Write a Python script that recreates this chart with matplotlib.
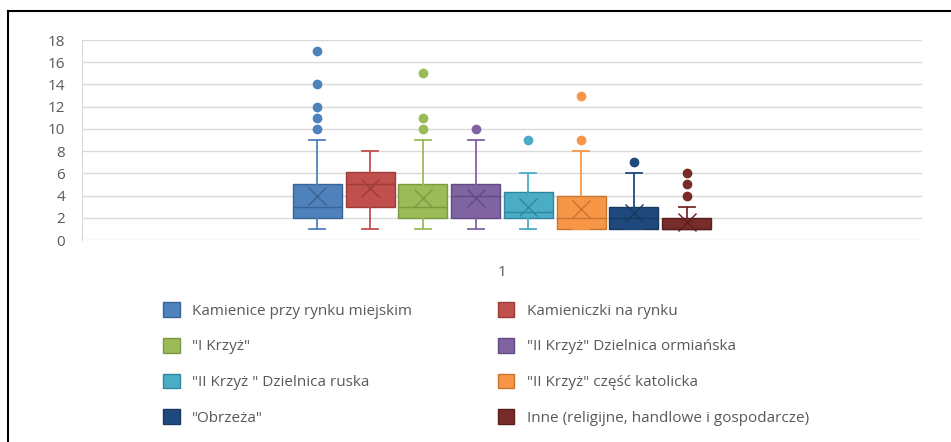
import numpy as np
import matplotlib
matplotlib.use('Agg')
import matplotlib.pyplot as plt
from matplotlib.patches import Patch
from matplotlib.lines import Line2D

plt.rcParams['font.family'] = ['Open Sans', 'DejaVu Sans']

# dane
labels = ['Kamienice przy rynku miejskim', 'Kamieniczki na rynku', '"I Krzyż"',
          '"II Krzyż" Dzielnica ormiańska', '"II Krzyż " Dzielnica ruska',
          '"II Krzyż" część katolicka', '"Obrzeża"',
          'Inne (religijne, handlowe i gospodarcze)']
q1 = [2, 3, 2, 2, 2, 1, 1, 1]
med = [3, 5, 3, 4, 2.5, 2, 2, 1]
q3 = [5, 6.15, 5, 5, 4.3, 4, 3, 2]
whislo = [1, 1, 1, 1, 1, 1, 1, 1]
whishi = [9, 8, 9, 9, 6, 8, 6, 3]
means = [4, 4.7, 3.8, 3.8, 3.0, 2.8, 2.4, 1.6]
fliers = [[10, 11, 12, 14, 17], [], [10, 11, 15], [10], [9], [9, 13], [7], [4, 5, 6]]

colors = ['#4F81BD', '#C0504D', '#9BBB59', '#8064A2', '#4BACC6', '#F79646', '#1F497D', '#772C2A']
dark = ['#3A6496', '#9C3B38', '#7A9A40', '#624A82', '#31869F', '#C8762F', '#173960', '#5A1F1D']

fig = plt.figure(figsize=(9.51, 4.42), dpi=100)
ax = fig.add_axes([0.0862, 0.457, 0.8833, 0.4525])

pos = np.arange(len(labels)) - (len(labels) - 1) / 2
for i in range(len(labels)):
    st = dict(q1=q1[i], med=med[i], q3=q3[i], whislo=whislo[i], whishi=whishi[i],
              mean=means[i], fliers=fliers[i])
    ax.bxp([st], positions=[pos[i]], widths=0.93, patch_artist=True, showmeans=True,
           capwidths=[0.3],
           boxprops=dict(facecolor=colors[i], edgecolor=dark[i], linewidth=1),
           whiskerprops=dict(color=colors[i], linewidth=1.3),
           capprops=dict(color=colors[i], linewidth=1.3),
           medianprops=dict(color=dark[i], linewidth=1),
           meanprops=dict(marker='x', markeredgecolor=dark[i], markersize=13, markeredgewidth=1),
           flierprops=dict(marker='o', markerfacecolor=colors[i], markeredgecolor=colors[i],
                           markersize=6))

ax.set_xlim(-7.96, 7.96)
ax.set_ylim(0, 18)
ax.set_yticks(range(0, 19, 2))
ax.set_xticks([0])
ax.set_xticklabels(['1'])
ax.yaxis.grid(True, color='#D9D9D9', linewidth=1)
ax.set_axisbelow(True)
for s in ['top', 'right', 'bottom']:
    ax.spines[s].set_visible(False)
ax.spines['left'].set_color('#D9D9D9')
ax.tick_params(axis='both', length=0, colors='#595959', labelsize=11)
ax.tick_params(axis='x', pad=18)
ax.tick_params(axis='y', pad=12)

# legenda - kolejnosc wierszami
order = [0, 2, 4, 6, 1, 3, 5, 7]
handles = [Patch(facecolor=colors[i], edgecolor=dark[i], label=labels[i]) for i in order]
leg = fig.legend(handles=handles, ncol=2, loc='upper left', bbox_to_anchor=(0.165, 0.33),
                 frameon=False, fontsize=11, handlelength=1.1, handleheight=1.1,
                 handletextpad=0.8, labelspacing=1.25, columnspacing=5.6, borderaxespad=0)
for t in leg.get_texts():
    t.set_color('#595959')

# ramka
fig.add_artist(Line2D([8/951, 1], [1-11/442, 1-11/442], color='black', linewidth=1.5))
fig.add_artist(Line2D([8/951, 8/951], [0, 1-11/442], color='black', linewidth=1.5))

fig.savefig('out.png', dpi=100)
